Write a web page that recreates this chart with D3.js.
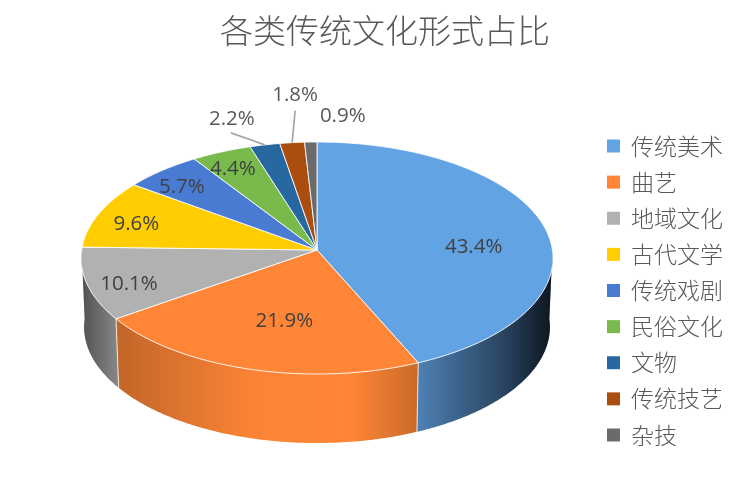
<!DOCTYPE html>
<html><head><meta charset="utf-8">
<script src="https://cdn.jsdelivr.net/npm/d3@7"></script>
<style>html,body{margin:0;padding:0;background:#fff}svg{display:block;filter:blur(0.45px)}text{font-family:"Noto Sans CJK SC","Noto Sans",sans-serif}</style>
</head><body><div id="c"></div>
<script>
const categories = ["传统美术","曲艺","地域文化","古代文学","传统戏剧","民俗文化","文物","传统技艺","杂技"];
const shares = [43.4,21.9,10.1,9.6,5.7,4.4,2.2,1.8,0.9];
const colors = ["#62a3e4","#ff8636","#b1b1b1","#ffcd00","#4a7bd3","#78ba4c","#2868a0","#aa4d0f","#6b6b6b"];
const titleText = "各类传统文化形式占比";

const W=755,H=491,cx=317,cy=250,ax=235.4,by=115.45,k=0.069,depth=69,bottomScale=0.987;
const labelRadius=[.7,.7,.7,.7,.7,.7,1,1,1];
const labelNudge=[[-3,11],[14,-13],[-28,8],[-27,-2],[-25,-9],[-16,-13],[-33,-28],[3,-50],[32,-28]];
const leaderFrom={6:[-1,16],7:[0,18]};

const svg=d3.select("#c").append("svg").attr("width",W).attr("height",H);
const defs=svg.append("defs");
const shadeStops=[[81,.55],[117,.24],[250,.02],[350,.0],[416,.2],[460,.4],[500,.56],[530,.74],[553,.87]];
const offset=d3.scaleLinear().domain([81,553]).range([0,1]);
defs.append("linearGradient").attr("id","shade").attr("gradientUnits","userSpaceOnUse")
  .attr("x1",81).attr("x2",553).attr("y1",0).attr("y2",0)
  .selectAll("stop").data(shadeStops).join("stop")
  .attr("offset",d=>offset(d[0])).attr("stop-color","#000").attr("stop-opacity",d=>d[1]);

const sx=d3.scaleLinear().domain([-1,1]).range([cx-ax,cx+ax]);
const sy=d3.scaleLinear().domain([-1,1]).range([cy-by,cy+by]);
function project(a,r){const u=r*Math.sin(a),v=-r*Math.cos(a),d=1-k*v;return [sx(u/d),sy(v/d)];}
function toBottom(p){return [cx+(p[0]-cx)*bottomScale,p[1]+depth];}
const line=d3.line();
const rim=(a0,a1)=>{const n=Math.max(2,Math.ceil((a1-a0)/0.01));return d3.range(n+1).map(i=>project(a0+(a1-a0)*i/n,1));};

const arcs=d3.pie().sort(null).value(d=>d)(shares);

// side wall
const g=svg.append("g");
const lo=Math.PI/2,hi=Math.PI*1.5;
arcs.forEach((s,i)=>{
  const a0=Math.max(s.startAngle,lo),a1=Math.min(s.endAngle,hi);
  if(a1<=a0)return;
  const top=rim(a0,a1),pts=top.concat(top.slice().reverse().map(toBottom));
  const d=line(pts)+"Z";
  g.append("path").attr("d",d).attr("fill",colors[i]);
  g.append("path").attr("d",d).attr("fill","url(#shade)");
});
// light seams on the wall
arcs.forEach(s=>{
  if(s.endAngle>lo&&s.endAngle<hi){
    const p=project(s.endAngle,1);
    g.append("path").attr("d",line([p,toBottom(p)])).attr("stroke","#f3e6da").attr("stroke-width",1).attr("fill","none");
  }
});
// top face
arcs.forEach((s,i)=>{
  g.append("path").attr("d",line([project(0,0)].concat(rim(s.startAngle,s.endAngle)))+"Z")
   .attr("fill",colors[i]).attr("stroke","#fff").attr("stroke-opacity",.85).attr("stroke-width",1).attr("stroke-linejoin","round");
});

// leaders + labels
arcs.forEach((s,i)=>{
  const mid=(s.startAngle+s.endAngle)/2,p=project(mid,labelRadius[i]);
  const x=p[0]+labelNudge[i][0],y=p[1]+labelNudge[i][1];
  if(leaderFrom[i]){
    svg.append("path").attr("d",line([[x+leaderFrom[i][0],y+leaderFrom[i][1]],p]))
      .attr("stroke","#a6a6a6").attr("stroke-width",1.7).attr("fill","none");
  }
  svg.append("text").attr("x",x).attr("y",y).attr("text-anchor","middle").attr("dominant-baseline","central")
    .attr("font-size",20.5).attr("fill",labelRadius[i]<1?"#404040":"#595959")
    .style("font-family",'"Open Sans","Noto Sans",sans-serif').text(shares[i].toFixed(1)+"%");
});

// title
svg.append("text").attr("x",385).attr("y",29).attr("text-anchor","middle").attr("dominant-baseline","central")
  .attr("font-size",33).attr("font-weight",300).attr("fill","#595959").text(titleText);

// legend
const ly=d3.scalePoint().domain(categories).range([146,435]);
const lg=svg.append("g").selectAll("g").data(categories).join("g").attr("transform",d=>`translate(607,${ly(d)})`);
lg.append("rect").attr("x",0).attr("y",-6.5).attr("width",13).attr("height",13).attr("fill",(d,i)=>colors[i]);
lg.append("text").attr("x",24).attr("y",-1.5).attr("dominant-baseline","central").attr("font-size",23).attr("font-weight",300).attr("fill","#595959").text(d=>d);
</script></body></html>
